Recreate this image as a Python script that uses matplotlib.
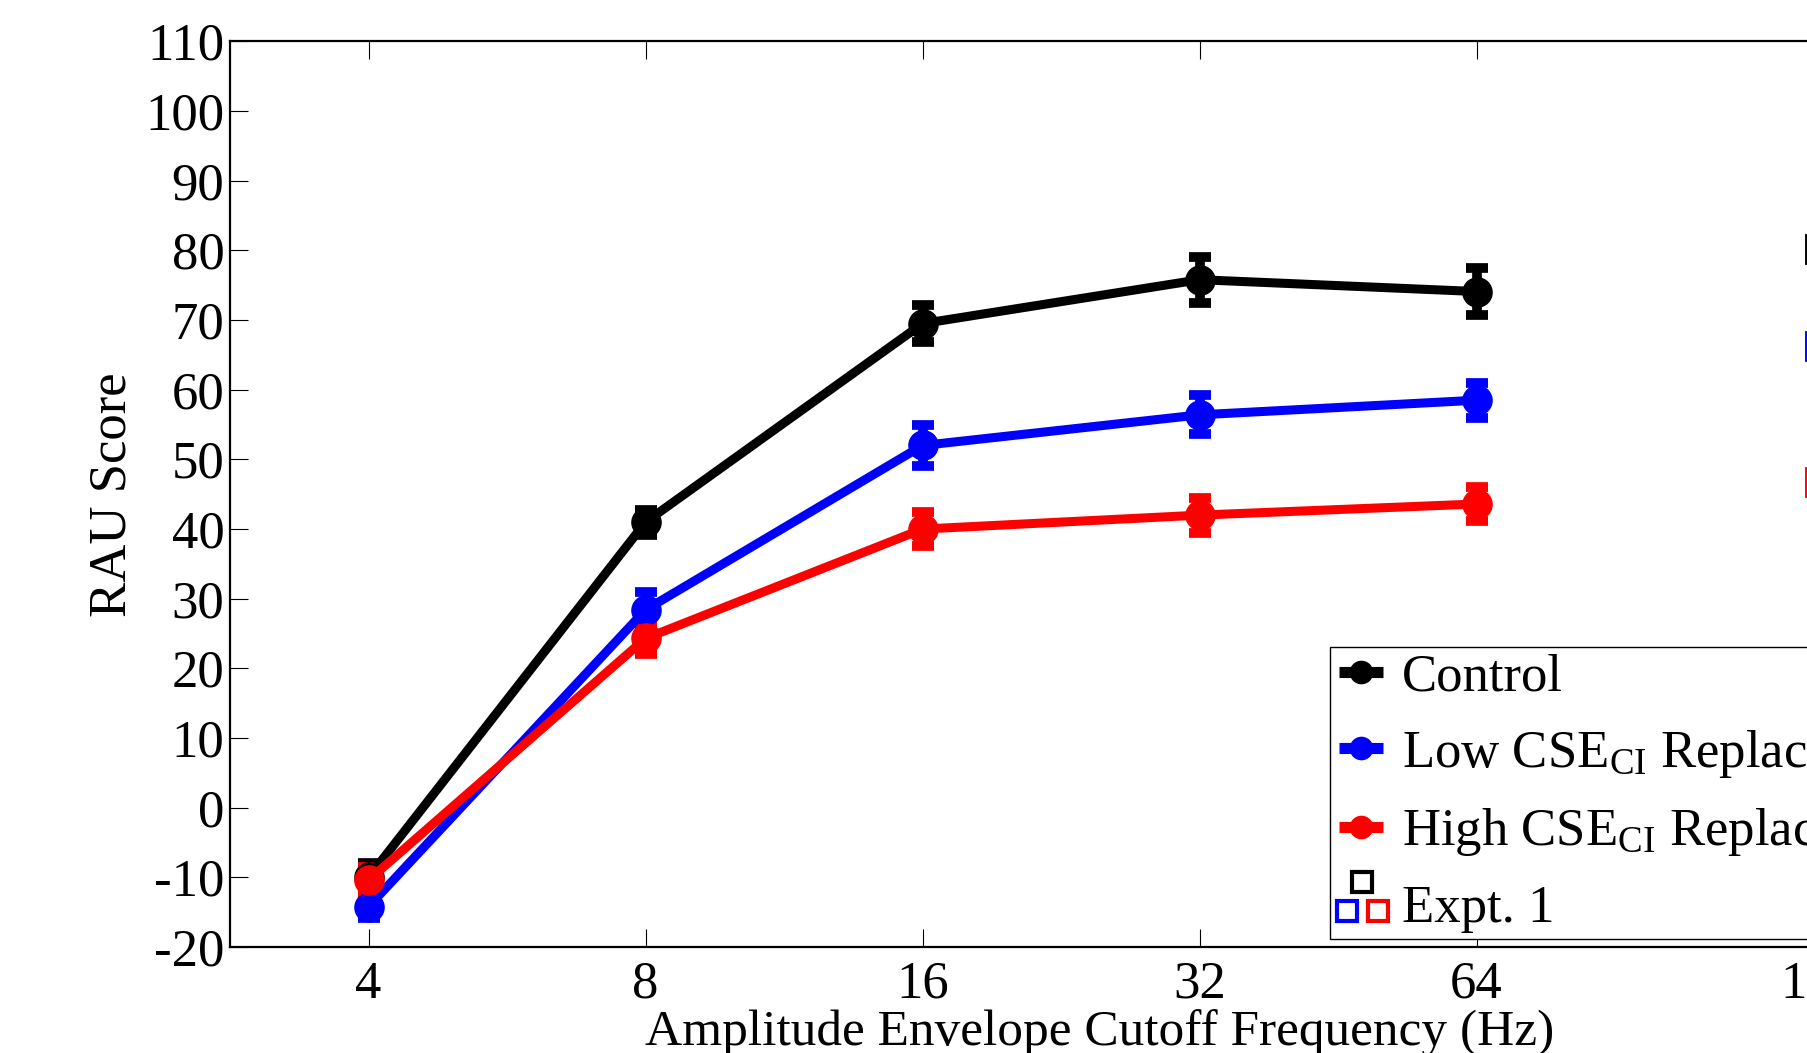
import numpy as np
import matplotlib
matplotlib.use("Agg")
import matplotlib.pyplot as plt
from matplotlib.lines import Line2D
from matplotlib.legend_handler import HandlerBase

plt.rcParams["font.family"] = ["Liberation Serif", "DejaVu Serif"]
plt.rcParams["mathtext.fontset"] = "custom"
plt.rcParams["mathtext.rm"] = "Liberation Serif"
plt.rcParams["mathtext.it"] = "Liberation Serif:italic"
plt.rcParams["axes.unicode_minus"] = False

# RAU scores per cutoff frequency (mean and s.e.)
freqs = [4, 8, 16, 32, 64]
control = [-10.0, 41.0, 69.5, 75.8, 74.1]
control_err = [2.0, 1.8, 2.6, 3.3, 3.4]
low_cse = [-14.2, 28.4, 52.0, 56.4, 58.5]
low_cse_err = [1.7, 2.5, 2.9, 2.8, 2.5]
high_cse = [-10.4, 24.3, 40.0, 42.0, 43.6]
high_cse_err = [1.9, 2.3, 2.4, 2.5, 2.4]

# Expt. 1 reference scores (unfiltered condition)
expt1_pos = 6.24
expt1_vals = [80.2, 66.3, 46.7]

tick_labels = ["4", "8", "16", "32", "64", "128"]
series_names = ["Control",
                r"Low CSE$_{\mathrm{CI}}$ Replaced",
                r"High CSE$_{\mathrm{CI}}$ Replaced"]
colors = ["black", "blue", "red"]

xpos = np.log2(freqs) - 1


class LineHandler(HandlerBase):
    # short thick line with a dot, inset from the left of the handle box
    def create_artists(self, legend, orig_handle, xdescent, ydescent,
                       width, height, fontsize, trans):
        cy = height / 2 - ydescent
        x0, x1 = 2.0 - xdescent, width - xdescent
        c = orig_handle.get_color()
        ln = Line2D([x0, x1], [cy, cy], color=c, lw=8,
                    solid_capstyle="butt", transform=trans)
        dot = Line2D([(x0 + x1) / 2], [cy], color=c, marker="o", ms=16,
                     linestyle="none", transform=trans)
        return [ln, dot]


class ExptHandler(HandlerBase):
    # three hollow squares: one on top, two side by side underneath
    def create_artists(self, legend, orig_handle, xdescent, ydescent,
                       width, height, fontsize, trans):
        cx = width / 2 - xdescent
        cy = height / 2 - ydescent
        offsets = [(1.7, 15), (-9.1, -5.5), (13.2, -5.5)]
        arts = []
        for h, (dx, dy) in zip(orig_handle, offsets):
            m = Line2D([cx + dx], [cy + dy], marker="s", ms=15, mew=3,
                       mfc="none", mec=h.get_markeredgecolor(),
                       linestyle="none", transform=trans)
            arts.append(m)
        return arts


fig = plt.figure(figsize=(18.07, 10.53), dpi=100)
ax = fig.add_axes([0.1273, 0.1007, 0.9563, 0.8599])

proxies = []
for y, err, c, lab in zip([control, low_cse, high_cse],
                          [control_err, low_cse_err, high_cse_err],
                          colors, series_names):
    ax.errorbar(xpos, y, yerr=err, color=c, lw=6.5, marker="o", ms=21,
                elinewidth=7, capsize=8, capthick=7)
    proxies.append(Line2D([], [], color=c))

squares = []
for v, c in zip(expt1_vals, colors):
    sq, = ax.plot([expt1_pos], [v], linestyle="none", marker="s", ms=19,
                  mew=3.5, mfc="none", mec=c, clip_on=False)
    squares.append(sq)

ax.set_xlim(0.5, 6.738)
ax.set_ylim(-20, 110)
ax.set_xticks(list(xpos) + [expt1_pos])
ax.set_xticklabels(tick_labels)
ax.set_yticks(np.arange(-20, 111, 10))

ax.tick_params(axis="both", direction="in", length=13, width=0.8,
               top=True, right=True, labelsize=38)
ax.tick_params(axis="x", pad=10)
ax.tick_params(axis="y", pad=4)
for s in ax.spines.values():
    s.set_linewidth(1.6)

ax.set_xlabel("Amplitude Envelope Cutoff Frequency (Hz)", fontsize=37)
ax.set_ylabel("RAU Score", fontsize=38)
ax.xaxis.set_label_coords(0.5035, -0.094)
ax.xaxis.label.set_va("center")
ax.yaxis.set_label_coords(-0.0683, 0.5)
ax.yaxis.label.set_va("center")

leg = ax.legend(proxies + [tuple(squares)], series_names + ["Expt. 1"],
                handler_map={Line2D: LineHandler(), tuple: ExptHandler()},
                loc="lower left", bbox_to_anchor=(0.6366, 0.0088),
                borderaxespad=0, fontsize=38, frameon=True, fancybox=False,
                edgecolor="black", framealpha=1, borderpad=0.12,
                labelspacing=0.5, handlelength=0.88, handletextpad=0.36)
leg.get_frame().set_linewidth(1.0)

plt.savefig("out.png", dpi=100)
plt.close()
